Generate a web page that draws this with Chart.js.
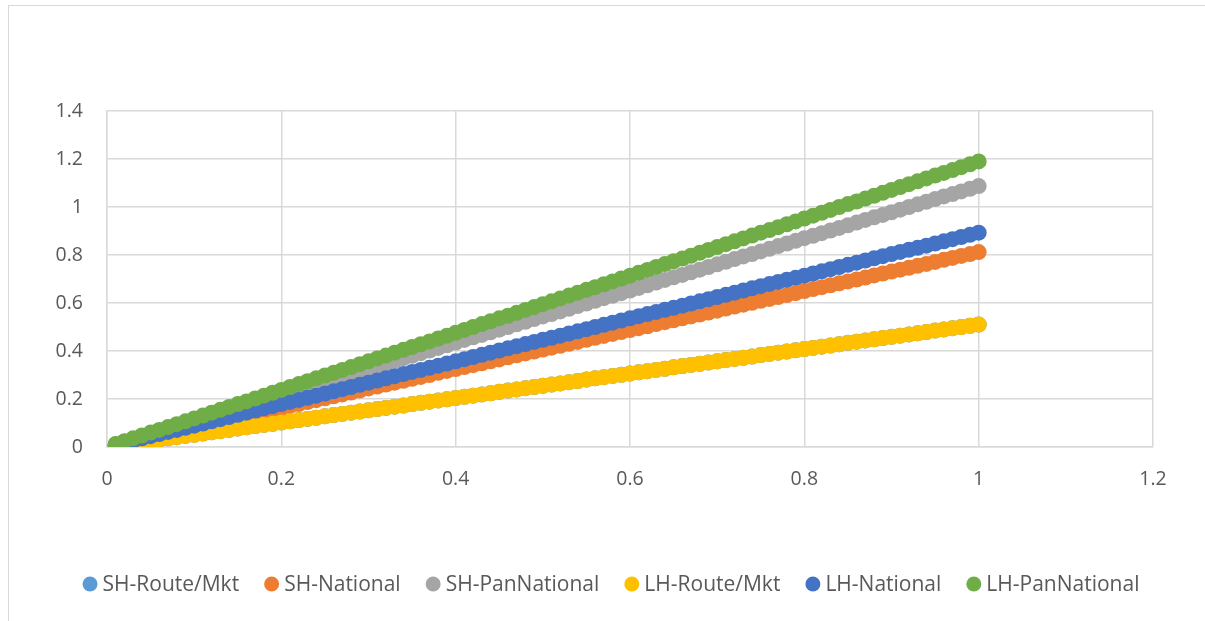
<!DOCTYPE html>
<html lang="en">
<head>
    <meta charset="UTF-8">
    <title>Scatter chart</title>
    <script src="https://cdn.jsdelivr.net/npm/chart.js"></script>
    <style>
        html, body { margin: 0; padding: 0; background: #fff; }
        #wrap { width: 1205px; height: 621px; position: relative; }
    </style>
</head>
<body>
<div id="wrap"><canvas id="chart"></canvas></div>
<script>
// x values shared by all series
const xValues = [
    0.01,0.02,0.03,0.04,0.05,0.06,0.07,0.08,0.09,0.10,
    0.11,0.12,0.13,0.14,0.15,0.16,0.17,0.18,0.19,0.20,
    0.21,0.22,0.23,0.24,0.25,0.26,0.27,0.28,0.29,0.30,
    0.31,0.32,0.33,0.34,0.35,0.36,0.37,0.38,0.39,0.40,
    0.41,0.42,0.43,0.44,0.45,0.46,0.47,0.48,0.49,0.50,
    0.51,0.52,0.53,0.54,0.55,0.56,0.57,0.58,0.59,0.60,
    0.61,0.62,0.63,0.64,0.65,0.66,0.67,0.68,0.69,0.70,
    0.71,0.72,0.73,0.74,0.75,0.76,0.77,0.78,0.79,0.80,
    0.81,0.82,0.83,0.84,0.85,0.86,0.87,0.88,0.89,0.90,
    0.91,0.92,0.93,0.94,0.95,0.96,0.97,0.98,0.99,1.00
];

// SH-Route/Mkt sits under LH-Route/Mkt in the picture
const shRouteMkt = [
    0.005,0.010,0.015,0.020,0.026,0.031,0.036,0.041,0.046,0.051,
    0.056,0.061,0.066,0.071,0.077,0.082,0.087,0.092,0.097,0.102,
    0.107,0.112,0.117,0.122,0.128,0.133,0.138,0.143,0.148,0.153,
    0.158,0.163,0.168,0.173,0.179,0.184,0.189,0.194,0.199,0.204,
    0.209,0.214,0.219,0.224,0.230,0.235,0.240,0.245,0.250,0.255,
    0.260,0.265,0.270,0.275,0.281,0.286,0.291,0.296,0.301,0.306,
    0.311,0.316,0.321,0.326,0.332,0.337,0.342,0.347,0.352,0.357,
    0.362,0.367,0.372,0.377,0.383,0.388,0.393,0.398,0.403,0.408,
    0.413,0.418,0.423,0.428,0.434,0.439,0.444,0.449,0.454,0.459,
    0.464,0.469,0.474,0.479,0.485,0.490,0.495,0.500,0.505,0.510
];

const shNational = [
    0.008,0.016,0.024,0.032,0.041,0.049,0.057,0.065,0.073,0.081,
    0.089,0.097,0.106,0.114,0.122,0.130,0.138,0.146,0.154,0.162,
    0.171,0.179,0.187,0.195,0.203,0.211,0.219,0.227,0.235,0.244,
    0.252,0.260,0.268,0.276,0.284,0.292,0.300,0.309,0.317,0.325,
    0.333,0.341,0.349,0.357,0.365,0.374,0.382,0.390,0.398,0.406,
    0.414,0.422,0.430,0.438,0.447,0.455,0.463,0.471,0.479,0.487,
    0.495,0.503,0.512,0.520,0.528,0.536,0.544,0.552,0.560,0.568,
    0.577,0.585,0.593,0.601,0.609,0.617,0.625,0.633,0.641,0.650,
    0.658,0.666,0.674,0.682,0.690,0.698,0.706,0.715,0.723,0.731,
    0.739,0.747,0.755,0.763,0.771,0.780,0.788,0.796,0.804,0.812
];

const shPanNational = [
    0.011,0.022,0.033,0.043,0.054,0.065,0.076,0.087,0.098,0.109,
    0.120,0.130,0.141,0.152,0.163,0.174,0.185,0.196,0.207,0.217,
    0.228,0.239,0.250,0.261,0.272,0.283,0.293,0.304,0.315,0.326,
    0.337,0.348,0.359,0.370,0.380,0.391,0.402,0.413,0.424,0.435,
    0.446,0.457,0.467,0.478,0.489,0.500,0.511,0.522,0.533,0.544,
    0.554,0.565,0.576,0.587,0.598,0.609,0.620,0.630,0.641,0.652,
    0.663,0.674,0.685,0.696,0.707,0.717,0.728,0.739,0.750,0.761,
    0.772,0.783,0.794,0.804,0.815,0.826,0.837,0.848,0.859,0.870,
    0.880,0.891,0.902,0.913,0.924,0.935,0.946,0.957,0.967,0.978,
    0.989,1.000,1.011,1.022,1.033,1.044,1.054,1.065,1.076,1.087
];

const lhRouteMkt = [
    0.005,0.010,0.015,0.020,0.026,0.031,0.036,0.041,0.046,0.051,
    0.056,0.061,0.066,0.071,0.077,0.082,0.087,0.092,0.097,0.102,
    0.107,0.112,0.117,0.122,0.128,0.133,0.138,0.143,0.148,0.153,
    0.158,0.163,0.168,0.173,0.179,0.184,0.189,0.194,0.199,0.204,
    0.209,0.214,0.219,0.224,0.230,0.235,0.240,0.245,0.250,0.255,
    0.260,0.265,0.270,0.275,0.281,0.286,0.291,0.296,0.301,0.306,
    0.311,0.316,0.321,0.326,0.332,0.337,0.342,0.347,0.352,0.357,
    0.362,0.367,0.372,0.377,0.383,0.388,0.393,0.398,0.403,0.408,
    0.413,0.418,0.423,0.428,0.434,0.439,0.444,0.449,0.454,0.459,
    0.464,0.469,0.474,0.479,0.485,0.490,0.495,0.500,0.505,0.510
];

const lhNational = [
    0.009,0.018,0.027,0.036,0.045,0.054,0.063,0.071,0.080,0.089,
    0.098,0.107,0.116,0.125,0.134,0.143,0.152,0.161,0.170,0.179,
    0.188,0.196,0.205,0.214,0.223,0.232,0.241,0.250,0.259,0.268,
    0.277,0.286,0.295,0.304,0.313,0.321,0.330,0.339,0.348,0.357,
    0.366,0.375,0.384,0.393,0.402,0.411,0.420,0.429,0.438,0.447,
    0.455,0.464,0.473,0.482,0.491,0.500,0.509,0.518,0.527,0.536,
    0.545,0.554,0.563,0.572,0.580,0.589,0.598,0.607,0.616,0.625,
    0.634,0.643,0.652,0.661,0.670,0.679,0.688,0.697,0.705,0.714,
    0.723,0.732,0.741,0.750,0.759,0.768,0.777,0.786,0.795,0.804,
    0.813,0.822,0.830,0.839,0.848,0.857,0.866,0.875,0.884,0.893
];

const lhPanNational = [
    0.012,0.024,0.036,0.048,0.060,0.071,0.083,0.095,0.107,0.119,
    0.131,0.143,0.155,0.167,0.179,0.190,0.202,0.214,0.226,0.238,
    0.250,0.262,0.274,0.286,0.298,0.309,0.321,0.333,0.345,0.357,
    0.369,0.381,0.393,0.405,0.417,0.428,0.440,0.452,0.464,0.476,
    0.488,0.500,0.512,0.524,0.536,0.547,0.559,0.571,0.583,0.595,
    0.607,0.619,0.631,0.643,0.655,0.666,0.678,0.690,0.702,0.714,
    0.726,0.738,0.750,0.762,0.774,0.785,0.797,0.809,0.821,0.833,
    0.845,0.857,0.869,0.881,0.893,0.904,0.916,0.928,0.940,0.952,
    0.964,0.976,0.988,1.000,1.012,1.023,1.035,1.047,1.059,1.071,
    1.083,1.095,1.107,1.119,1.131,1.142,1.154,1.166,1.178,1.190
];

const seriesNames = ['SH-Route/Mkt', 'SH-National', 'SH-PanNational', 'LH-Route/Mkt', 'LH-National', 'LH-PanNational'];
const seriesValues = [shRouteMkt, shNational, shPanNational, lhRouteMkt, lhNational, lhPanNational];
const seriesColors = ['#5B9BD5', '#ED7D31', '#A5A5A5', '#FFC000', '#4472C4', '#70AD47'];

const FONT = '"Open Sans", Lato, sans-serif';
const TEXT_GREY = '#595959';

// thin grey frame around the chart object
const framePlugin = {
    id: 'frame',
    beforeDraw(chart) {
        const ctx = chart.ctx;
        ctx.save();
        ctx.fillStyle = '#fff';
        ctx.fillRect(0, 0, chart.width, chart.height);
        ctx.strokeStyle = '#d9d9d9';
        ctx.lineWidth = 1;
        ctx.strokeRect(8.5, 5.5, chart.width + 20, chart.height + 20);
        ctx.restore();
    }
};

// Excel style legend row: dot, short gap, label
const legendPlugin = {
    id: 'excelLegend',
    afterDraw(chart) {
        const ctx = chart.ctx;
        const r = 7.5, gap = 5, spacing = 25;
        const y = 584;
        ctx.save();
        ctx.font = '21px ' + FONT;
        ctx.textBaseline = 'middle';
        ctx.textAlign = 'left';
        const items = chart.data.datasets.map(ds => ({
            label: ds.label,
            color: ds.backgroundColor,
            w: 2 * r + gap + ctx.measureText(ds.label).width
        }));
        const total = items.reduce((s, it) => s + it.w, 0) + spacing * (items.length - 1);
        let x = 611 - total / 2;
        items.forEach(it => {
            ctx.fillStyle = it.color;
            ctx.beginPath();
            ctx.arc(x + r, y, r, 0, Math.PI * 2);
            ctx.fill();
            ctx.fillStyle = TEXT_GREY;
            ctx.fillText(it.label, x + 2 * r + gap, y + 1);
            x += it.w + spacing;
        });
        ctx.restore();
    }
};

const datasets = seriesNames.map((name, i) => ({
    label: name,
    data: xValues.map((x, j) => ({ x: x, y: seriesValues[i][j] })),
    backgroundColor: seriesColors[i],
    borderColor: seriesColors[i],
    borderWidth: 0,
    pointRadius: 8,
    pointHoverRadius: 8,
    showLine: false,
    order: seriesNames.length - i   // later series drawn on top, like Excel
}));

const ctx = document.getElementById('chart').getContext('2d');
new Chart(ctx, {
    type: 'scatter',
    data: { datasets: datasets },
    plugins: [framePlugin, legendPlugin],
    options: {
        responsive: true,
        maintainAspectRatio: false,
        animation: false,
        layout: { padding: { top: 111, right: 52, bottom: 0, left: 0 } },
        plugins: {
            tooltip: { enabled: false },
            legend: { display: false }
        },
        scales: {
            x: {
                type: 'linear',
                min: 0,
                max: 1.2,
                afterFit: (scale) => { scale.height = 174; },
                ticks: {
                    stepSize: 0.2,
                    padding: 21,
                    color: TEXT_GREY,
                    font: { family: FONT, size: 19.5 },
                    callback: (v) => String(+v.toFixed(1))
                },
                grid: { color: '#d9d9d9', lineWidth: 1.5, drawTicks: false },
                border: { color: '#d9d9d9', width: 1.5 }
            },
            y: {
                min: 0,
                max: 1.4,
                afterFit: (scale) => { scale.width = 107; },
                ticks: {
                    stepSize: 0.2,
                    padding: 24,
                    color: TEXT_GREY,
                    font: { family: FONT, size: 19.5 },
                    callback: (v) => String(+v.toFixed(1))
                },
                grid: { color: '#d9d9d9', lineWidth: 1.5, drawTicks: false },
                border: { color: '#d9d9d9', width: 1.5 }
            }
        }
    }
});
</script>
</body>
</html>
